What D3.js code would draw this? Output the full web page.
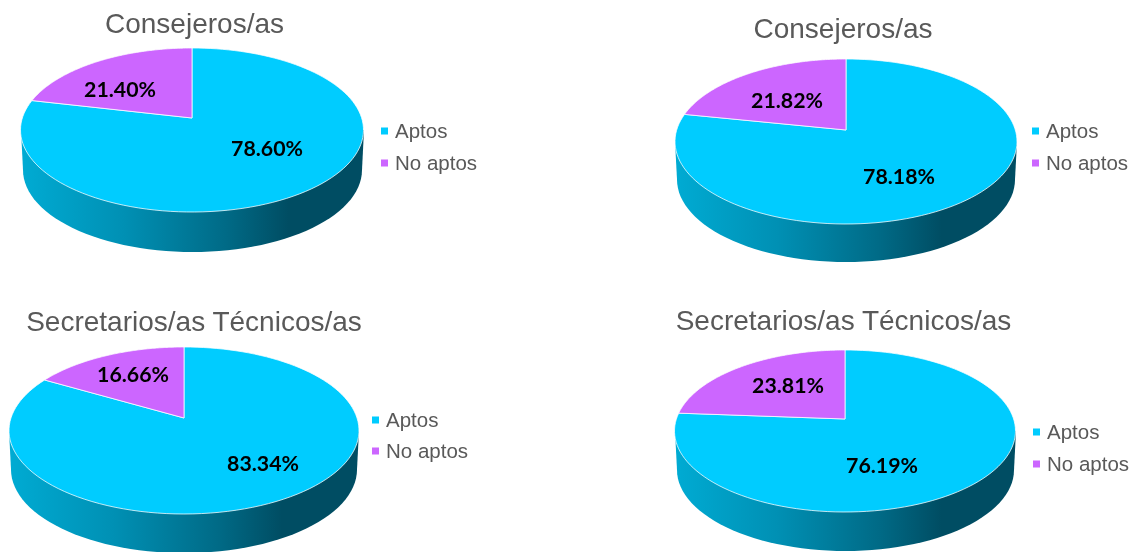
<!DOCTYPE html>
<html>
<head>
<meta charset="utf-8">
<style>
  html, body { margin: 0; padding: 0; background: #fff; }
  svg { display: block; filter: blur(0.4px); }
  .title { font-family: "Liberation Sans", Arial, sans-serif; font-size: 28px; fill: #595959; text-anchor: middle; }
  .legend text { font-family: "Liberation Sans", Arial, sans-serif; font-size: 20.5px; fill: #595959; }
  .value { font-family: Lato, sans-serif; font-weight: bold; font-size: 21.3px; fill: #000; text-anchor: middle; dominant-baseline: central; }
</style>
</head>
<body>
<svg id="chart" width="1135" height="552"></svg>
<script src="https://cdn.jsdelivr.net/npm/d3@7"></script>
<script>
var categories = ["Aptos", "No aptos"];
var titles = ["Consejeros/as", "Consejeros/as", "Secretarios/as Técnicos/as", "Secretarios/as Técnicos/as"];
var aptos = [78.60, 78.18, 83.34, 76.19];
var noAptos = [21.40, 21.82, 16.66, 23.81];

var color = d3.scaleOrdinal().domain(categories).range(["#00ccff", "#cc66ff"]);
var format = d3.format(".2f");

// where each pie sits on the page
var layout = [
  {left: 21, right: 364, top: 48, bottom: 212, apexX: 192, apexY: 118, depth: 40, titleX: 194.5, titleY: 33, legendX: 381, legendY: [131, 163], labels: [[267, 148], [120, 89]]},
  {left: 675, right: 1017, top: 59, bottom: 224, apexX: 846, apexY: 130, depth: 38, titleX: 843, titleY: 38, legendX: 1032, legendY: [131, 163], labels: [[899, 175.5], [787, 100]]},
  {left: 9, right: 359, top: 347, bottom: 514, apexX: 184, apexY: 418, depth: 39, titleX: 194, titleY: 331, legendX: 372, legendY: [420, 451], labels: [[263, 463], [133, 374]]},
  {left: 675, right: 1016, top: 350, bottom: 512, apexX: 845, apexY: 419, depth: 39, titleX: 843.5, titleY: 330, legendX: 1033, legendY: [432, 464], labels: [[882, 465], [788, 385]]}
];

var svg = d3.select("#chart");
var defs = svg.append("defs");

var pie = d3.pie().sort(null).value(d => d.value);

titles.forEach(function(title, i) {
  var p = layout[i];
  var data = [
    {name: categories[0], value: aptos[i]},
    {name: categories[1], value: noAptos[i]}
  ];

  // the tilted disc is a circle seen in perspective, so its centre is not the ellipse centre
  var below = p.bottom - p.apexY, above = p.apexY - p.top;
  var c = (above - below) / (above + below);
  var a = below * (1 + c);
  var rx = (p.right - p.left) / 2;
  var r0 = rx * Math.sqrt(1 - c * c);
  var project = function(angle) {
    var u = Math.sin(angle), v = -Math.cos(angle);
    var w = 1 + c * v;
    return [p.apexX + r0 * u / w, p.apexY + a * v / w];
  };
  var ry = (p.bottom - p.top) / 2;
  var cx = (p.left + p.right) / 2, cy = (p.top + p.bottom) / 2;

  var g = svg.append("g");

  var gradId = "side" + i;
  var grad = defs.append("linearGradient").attr("id", gradId)
    .attr("gradientUnits", "userSpaceOnUse")
    .attr("x1", p.left).attr("x2", p.right).attr("y1", 0).attr("y2", 0);
  grad.append("stop").attr("offset", "0").attr("stop-color", "#00abd3");
  grad.append("stop").attr("offset", "0.3").attr("stop-color", "#0090b4");
  grad.append("stop").attr("offset", "0.6").attr("stop-color", "#006a86");
  grad.append("stop").attr("offset", "0.78").attr("stop-color", "#004d63");
  grad.append("stop").attr("offset", "1").attr("stop-color", "#004d63");

  // side wall: top edge swept down to the slightly narrower bottom edge
  var inset = 2;
  var side = d3.path();
  side.moveTo(cx - rx, cy);
  side.lineTo(cx - rx + inset, cy + p.depth);
  d3.range(0, 181, 3).forEach(function(deg) {
    var t = deg * Math.PI / 180;
    side.lineTo(cx - (rx - inset) * Math.cos(t), cy + p.depth + ry * Math.sin(t));
  });
  side.lineTo(cx + rx, cy);
  side.closePath();
  g.append("path").attr("d", side.toString()).attr("fill", "url(#" + gradId + ")");

  // top face slices
  g.selectAll(".slice").data(pie(data)).join("path")
    .attr("class", "slice")
    .attr("fill", d => color(d.data.name))
    .attr("stroke", "#fff")
    .attr("stroke-opacity", 0.75)
    .attr("stroke-width", 1)
    .attr("d", function(d) {
      var steps = d3.range(0, 121).map(k => project(d.startAngle + (d.endAngle - d.startAngle) * k / 120));
      return "M" + p.apexX + "," + p.apexY + "L" + steps.map(s => s.join(",")).join("L") + "Z";
    });

  g.selectAll(".value").data(data).join("text")
    .attr("class", "value")
    .attr("x", (d, k) => p.labels[k][0])
    .attr("y", (d, k) => p.labels[k][1])
    .text(d => format(d.value) + "%");

  g.append("text").attr("class", "title")
    .attr("x", p.titleX).attr("y", p.titleY).text(title);

  var legend = g.append("g").attr("class", "legend");
  legend.selectAll("rect").data(categories).join("rect")
    .attr("x", p.legendX)
    .attr("y", (d, k) => p.legendY[k] - 3.5)
    .attr("width", 7).attr("height", 7)
    .attr("fill", d => color(d));
  legend.selectAll("text").data(categories).join("text")
    .attr("x", p.legendX + 14)
    .attr("y", (d, k) => p.legendY[k] + 6.5)
    .text(d => d);
});
</script>
</body>
</html>
